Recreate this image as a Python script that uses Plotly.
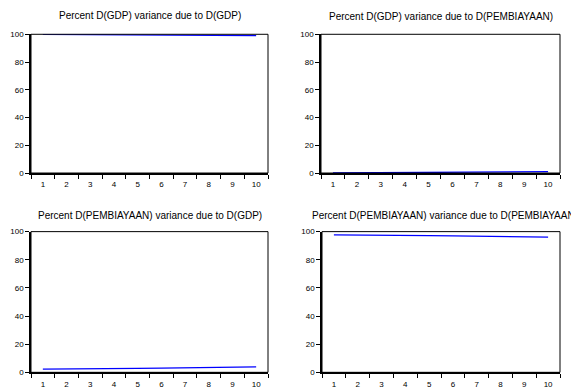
import plotly.graph_objects as go

W, H = 571, 391

periods = [1, 2, 3, 4, 5, 6, 7, 8, 9, 10]
gdp_due_gdp = [100.0, 99.9, 99.8, 99.6, 99.5, 99.4, 99.3, 99.2, 99.1, 99.0]
gdp_due_pemb = [0.0, 0.1, 0.2, 0.4, 0.5, 0.6, 0.7, 0.8, 0.9, 1.0]
pemb_due_gdp = [2.3, 2.3, 2.4, 2.6, 2.8, 3.0, 3.2, 3.4, 3.7, 3.9]
pemb_due_pemb = [97.7, 97.7, 97.6, 97.4, 97.2, 97.0, 96.8, 96.6, 96.3, 96.1]

titles = [
    "Percent D(GDP) variance due to D(GDP)",
    "Percent D(GDP) variance due to D(PEMBIAYAAN)",
    "Percent D(PEMBIAYAAN) variance due to D(GDP)",
    "Percent D(PEMBIAYAAN) variance due to D(PEMBIAYAAN)",
]
series = [gdp_due_gdp, gdp_due_pemb, pemb_due_gdp, pemb_due_pemb]
y_ticks = [0, 20, 40, 60, 80, 100]

# panel boxes in pixels: left, right, top, bottom
boxes = [(31, 268, 31, 173), (321, 560, 31, 173), (31, 268, 233, 377), (322, 560, 233, 377)]
title_pos = [(150, 12, "center"), (441, 13, "center"), (150, 216, "center"), (310, 216, "left")]

fig = go.Figure()
minor_vals = [p - 0.5 for p in periods] + [periods[-1] + 0.5]

for i, (vals, (l, r, t, b)) in enumerate(zip(series, boxes)):
    n = i + 1
    xa = "x" if n == 1 else f"x{n}"
    ya = "y" if n == 1 else f"y{n}"
    fig.add_trace(go.Scatter(x=periods, y=vals, mode="lines",
                             line=dict(color="#0000FF", width=1.3),
                             xaxis=xa, yaxis=ya, showlegend=False, hoverinfo="skip"))
    xkey = "xaxis" if n == 1 else f"xaxis{n}"
    ykey = "yaxis" if n == 1 else f"yaxis{n}"
    fig.update_layout(**{
        xkey: dict(domain=[l / W, r / W], anchor=ya, range=[0.5, 10.5],
                   tickvals=periods, ticktext=[str(p) for p in periods],
                   ticks="outside", ticklen=3, tickcolor="rgba(0,0,0,0)",
                   showgrid=False, zeroline=False,
                   showline=True, linecolor="black", linewidth=1.6,
                   tickfont=dict(family="Arial", size=8, color="black"),
                   minor=dict(tickvals=minor_vals, ticks="outside", ticklen=4,
                              tickcolor="black", tickwidth=1, showgrid=False),
                   fixedrange=True),
        ykey: dict(domain=[1 - b / H, 1 - t / H], anchor=xa, range=[0, 100],
                   tickvals=y_ticks, ticks="outside", ticklen=4, tickcolor="black",
                   showgrid=False, zeroline=False,
                   showline=True, linecolor="black", linewidth=1.6,
                   tickfont=dict(family="Arial", size=8, color="black"),
                   fixedrange=True),
    })
    fig.add_shape(type="rect", xref="paper", yref="paper",
                  x0=l / W, x1=r / W, y0=1 - b / H, y1=1 - t / H,
                  line=dict(color="black", width=1), layer="above")
    tx, ty, anc = title_pos[i]
    fig.add_annotation(text=titles[i], xref="paper", yref="paper",
                       x=tx / W, y=1 - ty / H, xanchor=anc, yanchor="middle",
                       showarrow=False, font=dict(family="Arial", size=10, color="black"))

fig.update_layout(width=W, height=H, margin=dict(l=0, r=0, t=0, b=0),
                  paper_bgcolor="white", plot_bgcolor="white")

fig.write_html("out.html", config={"displayModeBar": False},
               post_script="document.body.style.margin='0';document.body.style.overflow='hidden';")
